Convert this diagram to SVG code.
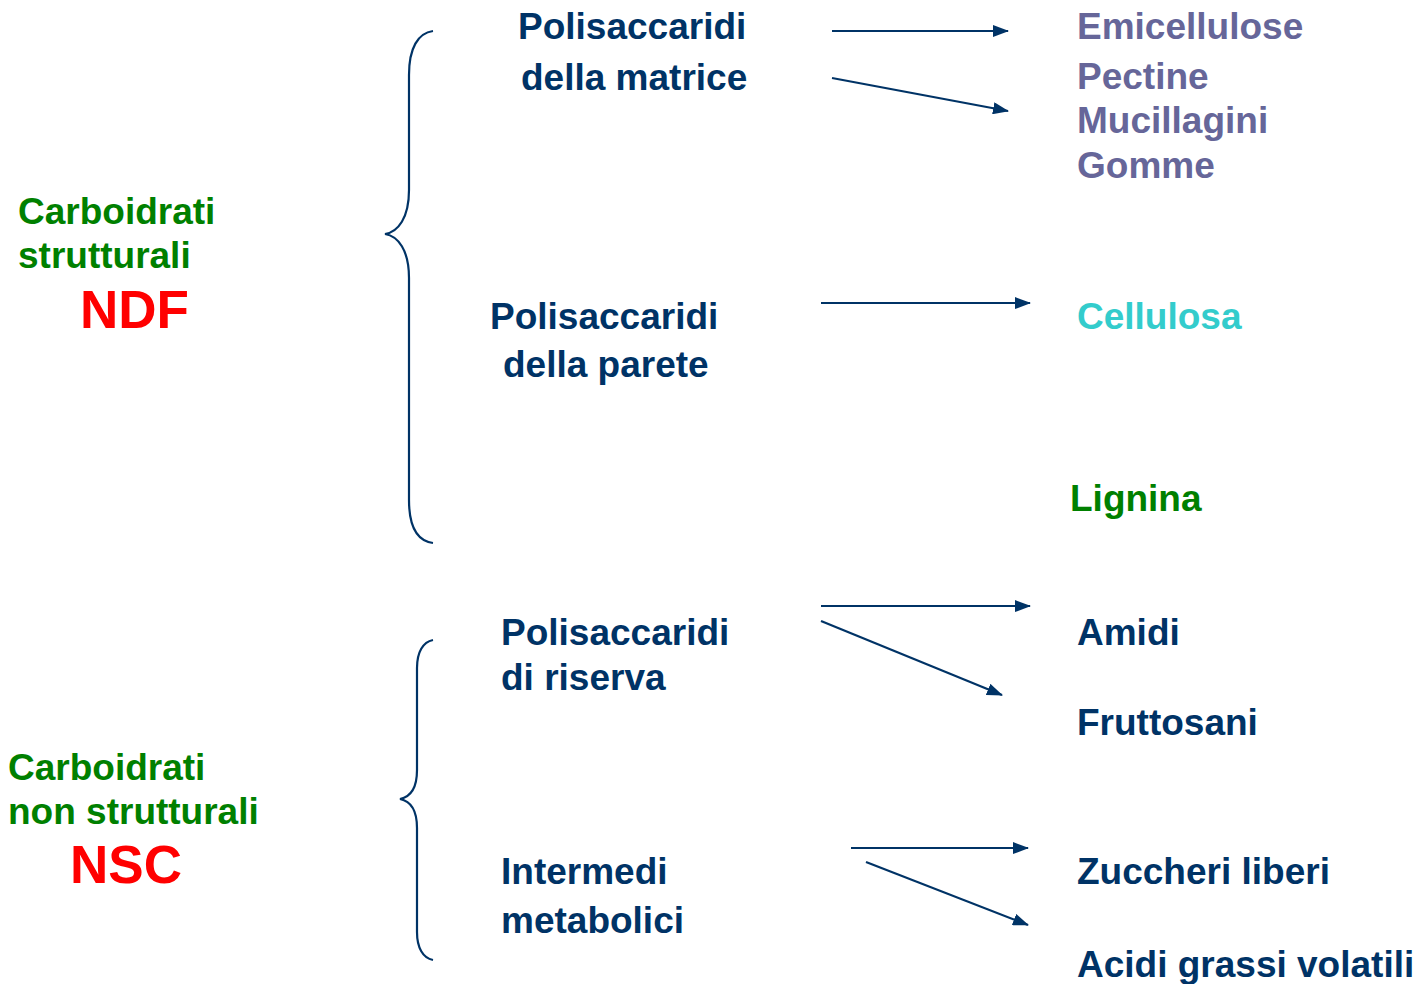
<svg xmlns="http://www.w3.org/2000/svg" width="1423" height="984" viewBox="0 0 1423 984">
<defs>
<style>
text{font-family:"Liberation Sans",Arial,sans-serif;font-weight:bold;font-size:37px}
.n{fill:#003366}
.p{fill:#666699}
.g{fill:#008000}
.r{fill:#FF0000;font-size:53px}
.c{fill:#33CCCC}
.ln{stroke:#003366;stroke-width:2.2;fill:none}
</style>
<marker id="ah" viewBox="0 0 16 12" refX="15" refY="6" markerWidth="16" markerHeight="12" markerUnits="userSpaceOnUse" orient="auto"><path d="M0,0 L16,6 L0,12 Z" fill="#003366"/></marker>
</defs>
<rect width="1423" height="984" fill="#fff"/>
<g id="braces">
<path class="ln" d="M433,31 C418,33 409,48 409,75 L409,190 C409,218 398,232 385,234 C398,236 409,250 409,278 L409,500 C409,527 418,541 433,543"/>
<path class="ln" d="M433,640 C423,642 417,652 417,668 L417,770 C417,788 410,797 400,799 C410,801 417,810 417,828 L417,932 C417,948 423,958 433,960"/>
</g>
<g id="connectors">
<line class="ln" x1="832" y1="31" x2="1008" y2="31" marker-end="url(#ah)"/>
<line class="ln" x1="832" y1="78" x2="1008" y2="111" marker-end="url(#ah)"/>
<line class="ln" x1="821" y1="303" x2="1030" y2="303" marker-end="url(#ah)"/>
<line class="ln" x1="821" y1="606" x2="1030" y2="606" marker-end="url(#ah)"/>
<line class="ln" x1="821" y1="621" x2="1002" y2="695" marker-end="url(#ah)"/>
<line class="ln" x1="851" y1="848" x2="1028" y2="848" marker-end="url(#ah)"/>
<line class="ln" x1="866" y1="862" x2="1028" y2="925" marker-end="url(#ah)"/>
</g>
<g id="ndf">
<text class="g" x="18" y="224">Carboidrati</text>
<text class="g" x="18" y="268">strutturali</text>
<text class="r" x="80" y="328">NDF</text>
</g>
<g id="nsc">
<text class="g" x="8" y="780">Carboidrati</text>
<text class="g" x="8" y="824">non strutturali</text>
<text class="r" x="70" y="883">NSC</text>
</g>
<g id="matrice">
<text class="n" x="518" y="39">Polisaccaridi</text>
<text class="n" x="521" y="90">della matrice</text>
</g>
<g id="parete">
<text class="n" x="490" y="329">Polisaccaridi</text>
<text class="n" x="503" y="377">della parete</text>
</g>
<g id="riserva">
<text class="n" x="501" y="645">Polisaccaridi</text>
<text class="n" x="501" y="690">di riserva</text>
</g>
<g id="intermedi">
<text class="n" x="501" y="884">Intermedi</text>
<text class="n" x="501" y="933">metabolici</text>
</g>
<g id="emicellulose"><text class="p" x="1077" y="39">Emicellulose</text></g>
<g id="pectine"><text class="p" x="1077" y="89">Pectine</text><text class="p" x="1077" y="133">Mucillagini</text><text class="p" x="1077" y="178">Gomme</text></g>
<g id="cellulosa"><text class="c" x="1077" y="329">Cellulosa</text></g>
<g id="lignina"><text class="g" x="1070" y="511">Lignina</text></g>
<g id="amidi"><text class="n" x="1077" y="645">Amidi</text></g>
<g id="fruttosani"><text class="n" x="1077" y="735">Fruttosani</text></g>
<g id="zuccheri"><text class="n" x="1077" y="884">Zuccheri liberi</text></g>
<g id="acidi"><text class="n" x="1077" y="977">Acidi grassi volatili</text></g>
</svg>
